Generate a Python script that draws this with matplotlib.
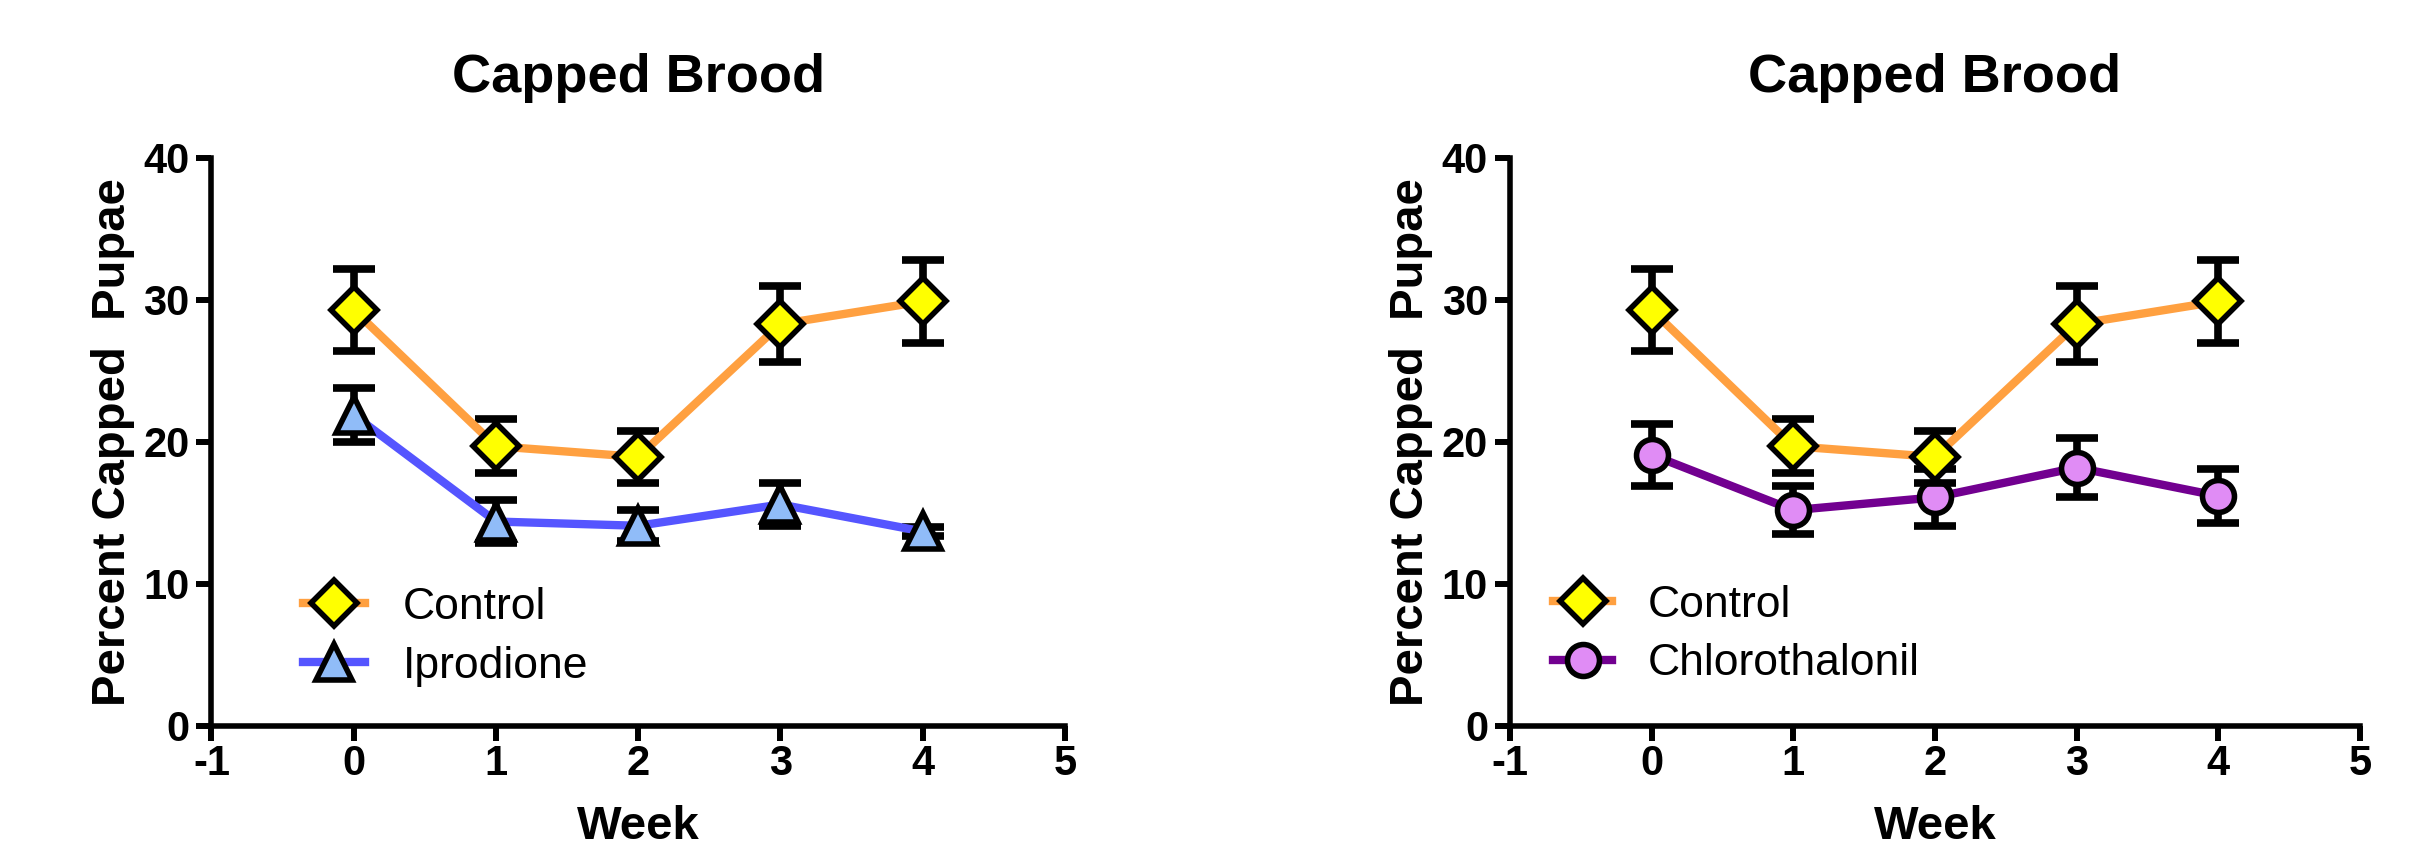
import matplotlib
matplotlib.use("Agg")
import matplotlib.pyplot as plt

plt.rcParams['font.family'] = ['Liberation Sans', 'DejaVu Sans']
plt.rcParams['axes.unicode_minus'] = False

# ---- data ----
weeks = [0, 1, 2, 3, 4]
control_mean = [29.3, 19.7, 18.95, 28.3, 29.9]
control_err = [2.9, 1.9, 1.85, 2.7, 2.9]
iprodione_mean = [21.9, 14.4, 14.1, 15.6, 13.7]
iprodione_err = [1.9, 1.5, 1.1, 1.5, 0.3]
chloro_mean = [19.1, 15.2, 16.1, 18.2, 16.2]
chloro_err = [2.2, 1.7, 2.0, 2.1, 1.9]

x_ticks = [-1, 0, 1, 2, 3, 4, 5]
y_ticks = [0, 10, 20, 30, 40]
title_text = "Capped Brood"
x_label = "Week"
y_label = "Percent Capped  Pupae"

# ---- styles ----
ORANGE = '#FFA040'
YELLOW = '#FFFF00'
BLUE = '#5555FF'
LBLUE = '#90BCF8'
PURPLE = '#720090'
ORCHID = '#E08CF5'

LW = 6.0
MEW = 4.0
ELW = 5.5
CAP = 14.8

fig = plt.figure(figsize=(24.16, 8.49), dpi=100)
ax1 = fig.add_axes([0.08754, 0.14488, 0.35327, 0.66902])
ax2 = fig.add_axes([0.62500, 0.14488, 0.35182, 0.66902])


def draw_series(ax, mean, err, line_color, marker, mfc, ms, label, z):
    ax.errorbar(weeks, mean, yerr=err, fmt='none', ecolor='black',
                elinewidth=ELW, capsize=CAP, capthick=ELW, zorder=z)
    ln, = ax.plot(weeks, mean, color=line_color, lw=LW, marker=marker,
                  mfc=mfc, mec='black', mew=MEW, ms=ms, label=label,
                  zorder=z + 0.5, solid_joinstyle='miter')
    return ln


def style_axes(ax):
    ax.set_xlim(-1, 5)
    ax.set_ylim(0, 40)
    ax.set_xticks(x_ticks)
    ax.set_yticks(y_ticks)
    for s in ['top', 'right']:
        ax.spines[s].set_visible(False)
    for s in ['left', 'bottom']:
        ax.spines[s].set_linewidth(4.0)
        ax.spines[s].set_capstyle('projecting')
    ax.tick_params(axis='both', direction='out', length=10.8, width=4.3,
                   labelsize=30)
    ax.tick_params(axis='x', pad=2.2)
    ax.tick_params(axis='y', pad=5)
    for lab in ax.get_xticklabels() + ax.get_yticklabels():
        lab.set_fontweight('bold')
    ax.set_title(title_text, fontsize=39, fontweight='bold', pad=47.5)
    ax.set_xlabel(x_label, fontsize=34, fontweight='bold', labelpad=15)
    ax.set_ylabel(y_label, fontsize=34, fontweight='bold', labelpad=6)


# Left panel
h_ip = draw_series(ax1, iprodione_mean, iprodione_err, BLUE, '^', LBLUE, 26, 'Iprodione', 2)
h_c1 = draw_series(ax1, control_mean, control_err, ORANGE, 'D', YELLOW, 23, 'Control', 4)
style_axes(ax1)
ax1.legend(handles=[h_c1, h_ip], loc='center left', bbox_to_anchor=(0.107, 0.157),
           frameon=False, fontsize=32, handlelength=1.4, handletextpad=0.85,
           labelspacing=0.4, borderpad=0, borderaxespad=0)

# Right panel
h_ch = draw_series(ax2, chloro_mean, chloro_err, PURPLE, 'o', ORCHID, 23, 'Chlorothalonil', 2)
h_c2 = draw_series(ax2, control_mean, control_err, ORANGE, 'D', YELLOW, 23, 'Control', 4)
style_axes(ax2)
ax2.legend(handles=[h_c2, h_ch], loc='center left', bbox_to_anchor=(0.0506, 0.161),
           frameon=False, fontsize=32, handlelength=1.33, handletextpad=0.8,
           labelspacing=0.4, borderpad=0, borderaxespad=0)

fig.savefig('out.png', dpi=100)
